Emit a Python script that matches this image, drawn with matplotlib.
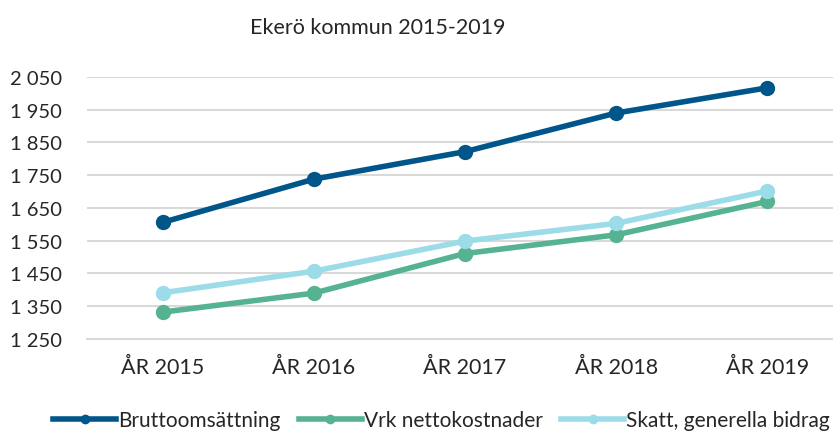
import matplotlib
matplotlib.use("Agg")
import matplotlib.pyplot as plt
from matplotlib.lines import Line2D
from matplotlib.ticker import FuncFormatter

#---- Donnees
years = ["ÅR 2015", "ÅR 2016", "ÅR 2017", "ÅR 2018", "ÅR 2019"]
brutto = [1606, 1738, 1822, 1940, 2017]
vrk_netto = [1332, 1390, 1511, 1568, 1670]
skatt = [1391, 1457, 1549, 1603, 1702]

series_names = ["Bruttoomsättning", "Vrk nettokostnader", "Skatt, generella bidrag"]
series_colors = ["#00568A", "#55B392", "#9BDCE8"]

plt.rcParams['font.family'] = ['Lato', 'DejaVu Sans']

#---- Figure
fig = plt.figure(figsize=(8.33, 4.35), dpi=100)
ax = fig.add_axes([0.1044, 0.2184, 0.9076, 0.6023])

x = range(len(years))
for vals, name, col in zip([brutto, vrk_netto, skatt], series_names, series_colors):
    ax.plot(x, vals, color=col, lw=4, marker='o', ms=10, label=name,
            solid_joinstyle='round')

ax.set_xlim(-0.5, len(years) - 0.5)
ax.set_ylim(1250, 2050)
ax.set_yticks(range(1250, 2051, 100))
ax.yaxis.set_major_formatter(FuncFormatter(lambda v, p: f"{int(v):,}".replace(",", " ")))
ax.set_xticks(list(x))
ax.set_xticklabels(years)

ax.grid(axis='y', color='#D9D9D9', lw=1.5)
ax.set_axisbelow(True)
for s in ['top', 'right', 'left']:
    ax.spines[s].set_visible(False)
ax.spines['bottom'].set_color('#D9D9D9')
ax.spines['bottom'].set_linewidth(1.5)
ax.tick_params(axis='both', length=0, colors='#262626')
ax.tick_params(axis='x', pad=13, labelsize=15.5)
ax.tick_params(axis='y', pad=18, labelsize=14.5)

fig.text(0.453, 0.935, "Ekerö kommun 2015-2019", ha='center', va='center',
         fontsize=15.5, color='#262626')

#---- Legende (marqueurs reduits)
handles = [Line2D([], [], color=c, lw=4, marker='o', ms=6) for c in series_colors]
fig.legend(handles, series_names, loc='center', bbox_to_anchor=(0.53, 0.032), ncol=3,
           frameon=False, fontsize=15, handlelength=3.0, handletextpad=0.1,
           columnspacing=0.9, labelcolor='#262626')

fig.savefig("out.png", dpi=100)
